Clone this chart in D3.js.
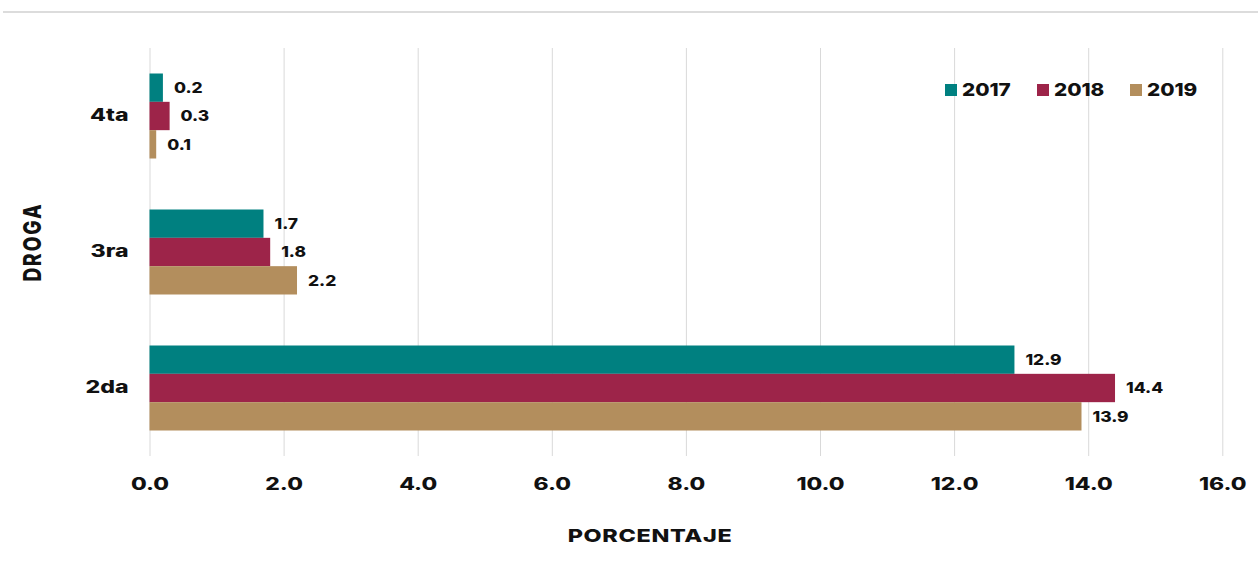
<!DOCTYPE html>
<html>
<head>
<meta charset="utf-8">
<script src="https://cdn.jsdelivr.net/npm/d3@7"></script>
<style>
  html, body { margin: 0; padding: 0; background: #fff; }
  svg { display: block; font-family: Inter, "Open Sans", sans-serif; font-weight: 800; }
</style>
</head>
<body>
<svg id="chart" width="1258" height="562"></svg>
<script>
// Drug-use percentages by category and year
const categories = ["4ta", "3ra", "2da"];
const years = ["2017", "2018", "2019"];
const values2017 = [0.2, 1.7, 12.9];
const values2018 = [0.3, 1.8, 14.4];
const values2019 = [0.1, 2.2, 13.9];
const xTicks = [0, 2, 4, 6, 8, 10, 12, 14, 16];
const colors = ["#008080", "#9D2449", "#B38E5D"];

const seriesValues = [values2017, values2018, values2019];
const rows = categories.map((c, i) => ({
  category: c,
  values: years.map((y, j) => ({ year: y, value: seriesValues[j][i] }))
}));

// Wide lettering: text is drawn with a horizontal stretch
const wide = { tick: 1.34, cat: 1.36, value: 1.16, legend: 1.15, title: 1.3 };
const ink = "#111";
const weight = 800;

const svg = d3.select("#chart");
const frame = { left: 149.5, right: 1222.3, top: 48, bottom: 456 };

const x = d3.scaleLinear().domain([0, 16]).range([frame.left, frame.right]);
const y = d3.scaleBand().domain(categories).range([frame.top, frame.bottom])
  .paddingInner(0.375).paddingOuter(0.1875);
const yInner = d3.scaleBand().domain(years).range([0, y.bandwidth()]);
const color = d3.scaleOrdinal().domain(years).range(colors);

// Top rule
svg.append("line")
  .attr("x1", 3).attr("x2", 1258).attr("y1", 12).attr("y2", 12)
  .attr("stroke", "#dcdcdc").attr("stroke-width", 2);

// Vertical gridlines and x tick labels
const xAxis = d3.axisBottom(x).tickValues(xTicks).tickFormat(d3.format(".1f"))
  .tickSize(-(frame.bottom - frame.top)).tickPadding(22);
const gx = svg.append("g").attr("transform", `translate(0,${frame.bottom})`).call(xAxis);
gx.select(".domain").remove();
gx.selectAll(".tick line").attr("stroke", "#d9d9d9").attr("stroke-width", 1);
gx.selectAll(".tick text")
  .attr("fill", ink).attr("font-size", 17).attr("font-weight", weight)
  .attr("font-family", "Inter, sans-serif")
  .attr("transform", `scale(${wide.tick},1)`);

// Category labels
const catPad = 21;
const yAxis = d3.axisLeft(y).tickSize(0).tickPadding(catPad);
const gy = svg.append("g").attr("transform", `translate(${frame.left},0)`).call(yAxis);
gy.select(".domain").remove();
gy.selectAll(".tick text")
  .attr("fill", ink).attr("font-size", 17).attr("font-weight", weight)
  .attr("font-family", "Inter, sans-serif")
  .attr("x", -catPad / wide.cat)
  .attr("transform", `scale(${wide.cat},1)`);

// Bars
const groups = svg.append("g").selectAll("g").data(rows).join("g")
  .attr("transform", d => `translate(0,${y(d.category)})`);

groups.selectAll("rect").data(d => d.values).join("rect")
  .attr("x", x(0))
  .attr("y", d => yInner(d.year))
  .attr("width", d => x(d.value) - x(0))
  .attr("height", yInner.bandwidth())
  .attr("fill", d => color(d.year));

// Value labels
groups.selectAll("text").data(d => d.values).join("text")
  .attr("transform", d =>
    `translate(${x(d.value) + 11},${yInner(d.year) + yInner.bandwidth() / 2}) scale(${wide.value},1)`)
  .attr("dy", "0.36em")
  .attr("font-size", 15)
  .attr("fill", ink)
  .text(d => d3.format(".1f")(d.value));

// Legend
const legendX = [945, 1037, 1130];
const legend = svg.append("g").selectAll("g").data(years).join("g")
  .attr("transform", (d, i) => `translate(${legendX[i]},84)`);
legend.append("rect").attr("width", 12).attr("height", 12).attr("fill", d => color(d));
legend.append("text")
  .attr("transform", `translate(17,6) scale(${wide.legend},1)`)
  .attr("dy", "0.36em")
  .attr("font-size", 18).attr("fill", ink).text(d => d);

// Axis titles
svg.append("text")
  .attr("transform", `translate(650,536) scale(${wide.title},1)`)
  .attr("dy", "0.35em").attr("text-anchor", "middle")
  .attr("letter-spacing", 0.5)
  .attr("font-size", 18).attr("fill", ink).text("PORCENTAJE");

svg.append("text")
  .attr("transform", `translate(32,242) scale(${wide.title},1) rotate(-90)`)
  .attr("dy", "0.35em").attr("text-anchor", "middle")
  .attr("letter-spacing", 2)
  .attr("font-size", 19).attr("fill", ink).text("DROGA");
</script>
</body>
</html>
